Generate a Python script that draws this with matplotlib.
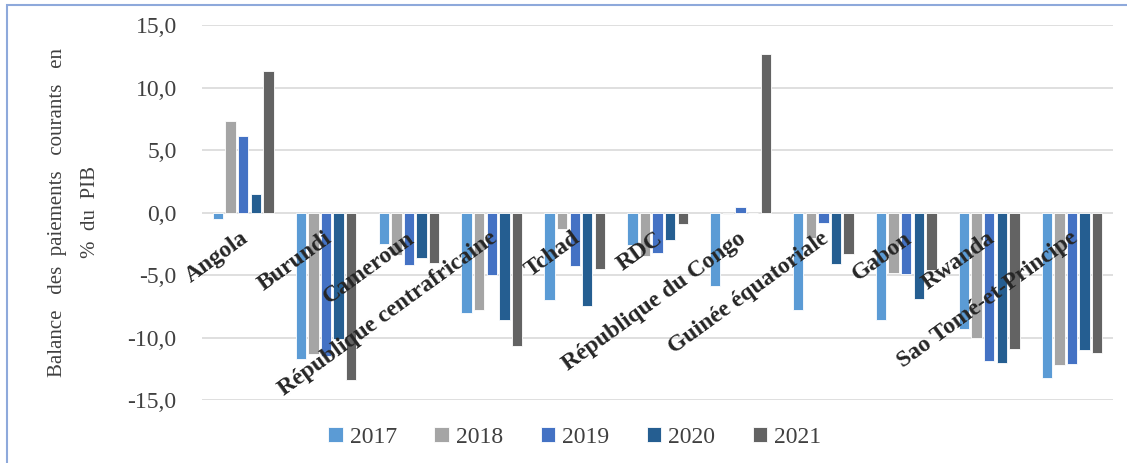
import matplotlib.pyplot as plt
import matplotlib.ticker as mticker
from matplotlib.patches import Rectangle
import numpy as np

# ─────────────────────────────────────────────
# Data: current account balance, % of GDP
# ─────────────────────────────────────────────
pays = ["Angola", "Burundi", "Cameroun", "République centrafricaine", "Tchad", "RDC",
        "République du Congo", "Guinée équatoriale", "Gabon", "Rwanda", "Sao Tomé-et-Principe"]
annees = ["2017", "2018", "2019", "2020", "2021"]

v2017 = [-0.5, -11.7, -2.5, -8.0, -7.0, -2.6, -5.9, -7.8, -8.6, -9.3, -13.2]
v2018 = [7.3, -11.3, -3.4, -7.8, -1.3, -3.5, -0.1, -2.0, -4.8, -10.0, -12.2]
v2019 = [6.1, -11.5, -4.2, -5.0, -4.3, -3.2, 0.45, -0.8, -4.9, -11.9, -12.1]
v2020 = [1.5, -10.1, -3.6, -8.6, -7.5, -2.2, 0.0, -4.1, -6.9, -12.0, -11.0]
v2021 = [11.3, -13.4, -4.0, -10.7, -4.5, -0.9, 12.7, -3.3, -4.6, -10.9, -11.2]

couleurs = ["#5B9BD5", "#A5A5A5", "#4472C4", "#255E91", "#636363"]

plt.rcParams['font.family'] = ['Liberation Serif', 'DejaVu Serif']

fig = plt.figure(figsize=(11.27, 4.63), dpi=100, facecolor="white")
ax = fig.add_axes([0.179, 0.136, 0.809, 0.810])

x = np.arange(len(pays))
series = [v2017, v2018, v2019, v2020, v2021]
pas = 0.152
for j, (vals, an, col) in enumerate(zip(series, annees, couleurs)):
    ax.bar(x + (j - 2) * pas, vals, width=0.125, color=col, edgecolor="white",
           linewidth=0.6, label=an, zorder=3)

ax.set_xlim(-0.5, len(pays) - 0.5)
ax.set_ylim(-15, 15)
ax.yaxis.set_major_locator(mticker.MultipleLocator(5))
ax.yaxis.set_major_formatter(mticker.FuncFormatter(lambda v, p: f"{v:.1f}".replace(".", ",")))
ax.grid(axis="y", color="#D9D9D9", linewidth=1.2, zorder=0)
ax.set_xticks([])
ax.tick_params(axis="y", length=0, labelsize=17, colors="#404040", pad=18)
for spine in ax.spines.values():
    spine.set_visible(False)

# Category labels, rotated, anchored just below zero line
for i, nom in enumerate(pays):
    ax.annotate(nom, xy=(i, 0), xytext=(-2, -11), textcoords="offset points",
                ha="right", va="top", rotation=36, rotation_mode="anchor",
                fontsize=17, fontweight="bold", color="#262626", zorder=4)

fig.text(0.051, 0.542, "Balance   des  paiements   courants   en",
         rotation=90, ha="center", va="center", fontsize=15, color="#404040")
fig.text(0.080, 0.542, "%  du  PIB", rotation=90, ha="center", va="center",
         fontsize=15, color="#404040")

fig.legend(loc="center", bbox_to_anchor=(0.51, 0.055), ncol=5, frameon=False,
           fontsize=17, handlelength=0.6, handleheight=0.6, handletextpad=0.3,
           columnspacing=1.6, labelcolor="#404040")

# thin bluish frame (top and left edges visible)
fig.patches.append(Rectangle((7 / 1127, -0.1), 1.2, 1 - 5 / 463 + 0.1,
                             transform=fig.transFigure, fill=False,
                             edgecolor="#8EA9DB", linewidth=1.5))

plt.savefig("out.png", dpi=100, facecolor=fig.get_facecolor())
